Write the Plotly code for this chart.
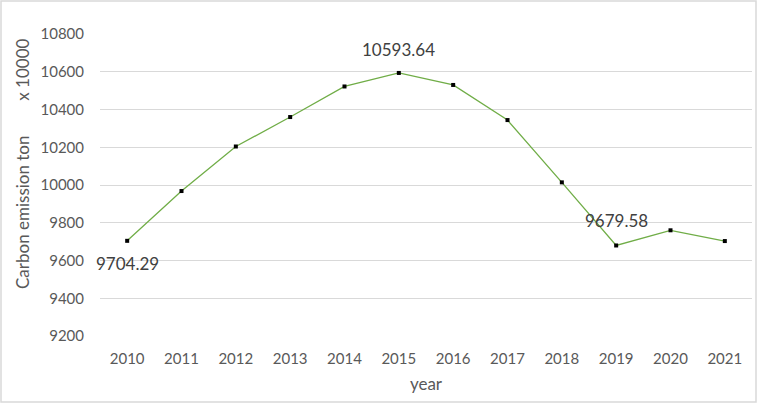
import plotly.graph_objects as go

years = [2010, 2011, 2012, 2013, 2014, 2015, 2016, 2017, 2018, 2019, 2020, 2021]
emissions = [9704.29, 9968, 10204, 10360, 10522, 10593.64, 10530, 10344, 10014, 9679.58, 9760, 9703]
y_ticks = [9200, 9400, 9600, 9800, 10000, 10200, 10400, 10600, 10800]

FONT = "Lato"
GRAY = "#595959"

fig = go.Figure()
fig.add_trace(go.Scatter(
    x=years, y=emissions, mode="lines+markers",
    line=dict(color="#70AD47", width=1.3),
    marker=dict(symbol="square", size=4, color="#000000"),
    showlegend=False, hoverinfo="x+y",
))

labels = [(0, "9704.29", "bottom", 0, -10), (5, "10593.64", "top", 0, 11), (9, "9679.58", "top", 0, 12)]
for i, txt, pos, dx, dy in labels:
    fig.add_annotation(
        x=years[i], y=emissions[i], text=txt, showarrow=False,
        xshift=dx, yshift=dy,
        yanchor="bottom" if pos == "top" else "top",
        font=dict(family=FONT, size=17, color="#404040"),
    )

fig.add_annotation(
    xref="paper", yref="paper", x=-78/652, xanchor="center",
    y=(336 - 164) / 302, yanchor="middle",
    text="Carbon emission ton&nbsp;&nbsp;&nbsp;&nbsp;&nbsp;&nbsp;&nbsp;&nbsp;x 10000",
    textangle=-90, showarrow=False,
    font=dict(family=FONT, size=17, color=GRAY),
)

fig.update_layout(
    width=757, height=403,
    margin=dict(l=100, r=5, t=34, b=67),
    paper_bgcolor="white", plot_bgcolor="white",
    font=dict(family=FONT, color=GRAY, size=15),
    xaxis=dict(
        range=[2009.5, 2021.5], tickmode="array", tickvals=years,
        ticktext=[str(y) for y in years], showgrid=False, zeroline=False,
        showline=False, ticks="", ticklabelstandoff=12, tickfont=dict(size=15, color=GRAY),
        title=dict(text="year", font=dict(size=17, color=GRAY), standoff=12),
    ),
    yaxis=dict(
        range=[9200, 10800], tickmode="array", tickvals=y_ticks,
        ticktext=[str(v) for v in y_ticks], showgrid=True,
        gridcolor="#D9D9D9", gridwidth=1, zeroline=False, showline=False,
        ticks="", ticklabelstandoff=15, tickfont=dict(size=15, color=GRAY),
    ),
    shapes=[dict(type="rect", xref="paper", yref="paper",
                 x0=-99/652, x1=1+4/652, y0=-66/302, y1=1+33/302,
                 line=dict(color="#D9D9D9", width=1.5), fillcolor="rgba(0,0,0,0)",
                 layer="below")],
)

fig.write_html("out.html", config={"displayModeBar": False},
               post_script="document.body.style.margin='0';")
